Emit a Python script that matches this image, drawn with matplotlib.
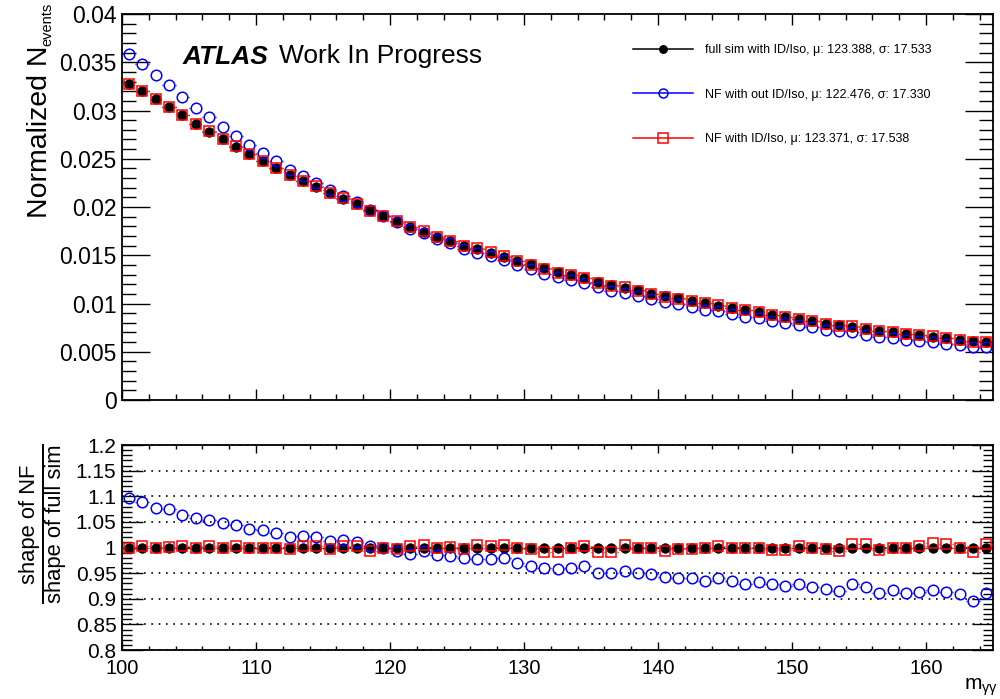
import numpy as np
import matplotlib
matplotlib.use("Agg")
import matplotlib.pyplot as plt
from matplotlib import font_manager
from matplotlib.ticker import MultipleLocator, FuncFormatter
from matplotlib.lines import Line2D


def pick_family(names):
    for name in names:
        try:
            font_manager.findfont(font_manager.FontProperties(family=name),
                                  fallback_to_default=False)
            return name
        except ValueError:
            continue
    return "DejaVu Sans"


MAIN_FONT = pick_family(["Liberation Sans", "Arial", "DejaVu Sans"])
NARROW_FONT = pick_family(["Liberation Sans Narrow", "Liberation Sans", "DejaVu Sans"])

plt.rcParams["font.family"] = [MAIN_FONT, "DejaVu Sans"]
plt.rcParams["mathtext.fontset"] = "custom"
plt.rcParams["mathtext.rm"] = MAIN_FONT
plt.rcParams["mathtext.it"] = MAIN_FONT + ":italic"
plt.rcParams["mathtext.bf"] = MAIN_FONT + ":bold"

# ---------------------------------------------------------------- data
# m_yy binning (GeV)
m_low, m_high, n_bins = 100.0, 165.0, 65

# normalised full-simulation shape, one value per 1 GeV bin
full_sim = [
    0.03275, 0.03200, 0.03120, 0.03035, 0.02950, 0.02865, 0.02782, 0.02702,
    0.02625, 0.02553, 0.02475, 0.02405, 0.02335, 0.02270, 0.02208, 0.02148,
    0.02087, 0.02027, 0.01968, 0.01908, 0.01854, 0.01792, 0.01744, 0.01690,
    0.01650, 0.01600, 0.01564, 0.01528, 0.01482, 0.01440, 0.01405, 0.01365,
    0.01330, 0.01300, 0.01260, 0.01226, 0.01192, 0.01163, 0.01135, 0.01102,
    0.01075, 0.01053, 0.01026, 0.01001, 0.00977, 0.00955, 0.00930, 0.00907,
    0.00882, 0.00865, 0.00840, 0.00817, 0.00792, 0.00776, 0.00760, 0.00735,
    0.00714, 0.00700, 0.00686, 0.00672, 0.00655, 0.00638, 0.00622, 0.00610,
    0.00597,
]

# shape ratio NF / full sim, NF without ID/Iso
ratio_nf_noid = [
    1.096, 1.088, 1.078, 1.075, 1.064, 1.057, 1.054, 1.047, 1.044, 1.037,
    1.035, 1.029, 1.021, 1.023, 1.020, 1.013, 1.014, 1.010, 1.002, 0.999,
    0.994, 0.988, 0.994, 0.986, 0.983, 0.979, 0.977, 0.977, 0.979, 0.970,
    0.964, 0.960, 0.958, 0.960, 0.964, 0.951, 0.950, 0.955, 0.951, 0.949,
    0.942, 0.940, 0.940, 0.934, 0.940, 0.934, 0.929, 0.933, 0.929, 0.925,
    0.929, 0.923, 0.920, 0.916, 0.929, 0.923, 0.912, 0.918, 0.912, 0.913,
    0.918, 0.913, 0.910, 0.895, 0.912,
]

# shape ratio NF / full sim, NF with ID/Iso
ratio_nf_id = [
    1.000, 1.002, 1.000, 1.001, 1.002, 1.000, 1.003, 1.000, 1.002, 1.000,
    1.000, 1.000, 0.997, 1.002, 1.003, 0.997, 1.002, 1.002, 0.994, 0.999,
    0.998, 1.002, 1.005, 0.999, 1.001, 0.997, 1.004, 1.002, 1.005, 0.999,
    0.997, 0.992, 0.992, 1.000, 1.003, 0.992, 0.992, 1.004, 0.999, 0.999,
    0.994, 0.997, 0.997, 1.000, 1.003, 0.999, 1.000, 1.000, 0.996, 0.996,
    1.002, 1.000, 0.997, 0.994, 1.007, 1.007, 0.996, 1.000, 1.000, 1.003,
    1.008, 1.007, 1.000, 0.992, 1.007,
]

legend_labels = [
    "full sim with ID/Iso, \u03bc: 123.388, \u03c3: 17.533",
    "NF with out ID/Iso, \u03bc: 122.476, \u03c3: 17.330",
    "NF with ID/Iso, \u03bc: 123.371, \u03c3: 17.538",
]

# ---------------------------------------------------------------- derived
edges = np.linspace(m_low, m_high, n_bins + 1)
centers = 0.5 * (edges[:-1] + edges[1:])
half_w = 0.5 * (edges[1] - edges[0])

full = np.asarray(full_sim)
nf_noid = full * np.asarray(ratio_nf_noid)
nf_id = full * np.asarray(ratio_nf_id)

styles = [
    dict(color="black", marker="o", ms=6.8, mfc="black", mew=0.6, z=3),
    dict(color="blue", marker="o", ms=7.6, mfc="none", mew=1.1, z=4),
    dict(color="red", marker="s", ms=7.8, mfc="none", mew=1.1, z=5),
]


def draw_points(ax, x, y, st):
    # bin-width bars, only the parts sticking out of the marker
    gap = 0.9 * half_w
    ax.hlines(y, x - half_w, x - gap, color=st["color"], lw=1.0, zorder=st["z"])
    ax.hlines(y, x + gap, x + half_w, color=st["color"], lw=1.0, zorder=st["z"])
    ax.plot(x, y, linestyle="none", marker=st["marker"], ms=st["ms"],
            mfc=st["mfc"], mec=st["color"], mew=st["mew"], zorder=st["z"])


# ---------------------------------------------------------------- figure
fig = plt.figure(figsize=(10.0, 6.99), dpi=100)
W, H = 1000.0, 699.0
x0, x1 = 122.0, 993.0
ax1 = fig.add_axes([x0 / W, 1 - 400 / H, (x1 - x0) / W, (400 - 14) / H])
ax2 = fig.add_axes([x0 / W, 1 - 650 / H, (x1 - x0) / W, (650 - 445) / H])

fmt = FuncFormatter(lambda v, _: f"{v:g}")

# upper panel: normalised shapes
for y, st in zip([full, nf_noid, nf_id], styles):
    draw_points(ax1, centers, y, st)

ax1.set_xlim(m_low, m_high)
ax1.set_ylim(0, 0.04)
ax1.xaxis.set_major_locator(MultipleLocator(10))
ax1.xaxis.set_minor_locator(MultipleLocator(2))
ax1.yaxis.set_major_locator(MultipleLocator(0.005))
ax1.yaxis.set_minor_locator(MultipleLocator(0.001))
ax1.yaxis.set_major_formatter(fmt)
ax1.tick_params(which="both", direction="in", top=True, right=True,
                labelbottom=False, width=1.0)
ax1.tick_params(axis="x", which="major", length=8)
ax1.tick_params(axis="x", which="minor", length=4)
ax1.tick_params(axis="y", which="major", length=20, labelsize=16.5, pad=4)
ax1.tick_params(axis="y", which="minor", length=10)

handles = [Line2D([], [], color=st["color"], lw=1.1, marker=st["marker"],
                  ms=st["ms"] * 0.85, mfc=st["mfc"], mec=st["color"],
                  mew=st["mew"]) for st in styles]
ax1.legend(handles, legend_labels, loc="upper left",
           bbox_to_anchor=(0.5867, 0.922), frameon=False, fontsize=9,
           handlelength=4.8, handletextpad=0.95, labelspacing=2.6,
           borderpad=0, borderaxespad=0, numpoints=1)

# lower panel: shape ratios
ratio_full = full / full
for y, st in zip([ratio_full, np.asarray(ratio_nf_noid), np.asarray(ratio_nf_id)], styles):
    draw_points(ax2, centers, y, st)

ax2.set_xlim(m_low, m_high)
ax2.set_ylim(0.8, 1.2)
ax2.xaxis.set_major_locator(MultipleLocator(10))
ax2.xaxis.set_minor_locator(MultipleLocator(2))
ax2.yaxis.set_major_locator(MultipleLocator(0.05))
ax2.yaxis.set_minor_locator(MultipleLocator(0.01))
ax2.xaxis.set_major_formatter(fmt)
ax2.yaxis.set_major_formatter(fmt)
ax2.yaxis.grid(True, which="major", color="black", lw=1.2,
               linestyle=(0, (1, 3.4)), zorder=1)
ax2.set_axisbelow(True)
ax2.tick_params(which="both", direction="in", top=True, right=True, width=1.0)
ax2.tick_params(axis="x", which="major", length=5.5, labelsize=14.5, pad=6.5)
ax2.tick_params(axis="x", which="minor", length=3)
ax2.tick_params(axis="y", which="major", length=15, labelsize=15, pad=4)
ax2.tick_params(axis="y", which="minor", length=7.5)
for lab in ax2.get_xticklabels() + ax2.get_yticklabels():
    lab.set_fontfamily(NARROW_FONT)

for ax in (ax1, ax2):
    for sp in ax.spines.values():
        sp.set_linewidth(1.3)

# axis titles
fig.canvas.draw()
renderer = fig.canvas.get_renderer()

ytitle = fig.text(40 / W, 1 - 218 / H, "Normalized N", rotation=90,
                  ha="center", va="bottom", fontsize=20.5)
tb = ytitle.get_window_extent(renderer)
fig.text((tb.x1 + 1) / W, tb.y1 / H, "events", rotation=90,
         ha="right", va="bottom", fontsize=10.5)

num = fig.text(30 / W, 1 - 524 / H, "shape of NF", rotation=90,
               ha="center", va="center", fontsize=15.8)
den = fig.text(56 / W, 1 - 524 / H, "shape of full sim", rotation=90,
               ha="center", va="center", fontsize=15.8)

fig.text(1.0 - 2 / W, 1 / H, "m$_{\\mathrm{\u03b3\u03b3}}$", ha="right",
         va="bottom", fontsize=15, family=NARROW_FONT)

# experiment label
fig.text(183 / W, 1 - 63.5 / H, "ATLAS", fontsize=19, fontweight="bold",
         fontstyle="italic", va="baseline")
fig.text(279 / W, 1 - 63.5 / H, "Work In Progress", fontsize=19,
         va="baseline")

# fraction bar under the numerator, as long as the denominator
bb = den.get_window_extent(renderer)
y_lo, y_hi = bb.y0 / fig.bbox.height, bb.y1 / fig.bbox.height
fig.add_artist(Line2D([43 / W, 43 / W], [y_lo, y_hi], color="black", lw=1.4,
                      transform=fig.transFigure))

fig.savefig("out.png", dpi=100)
